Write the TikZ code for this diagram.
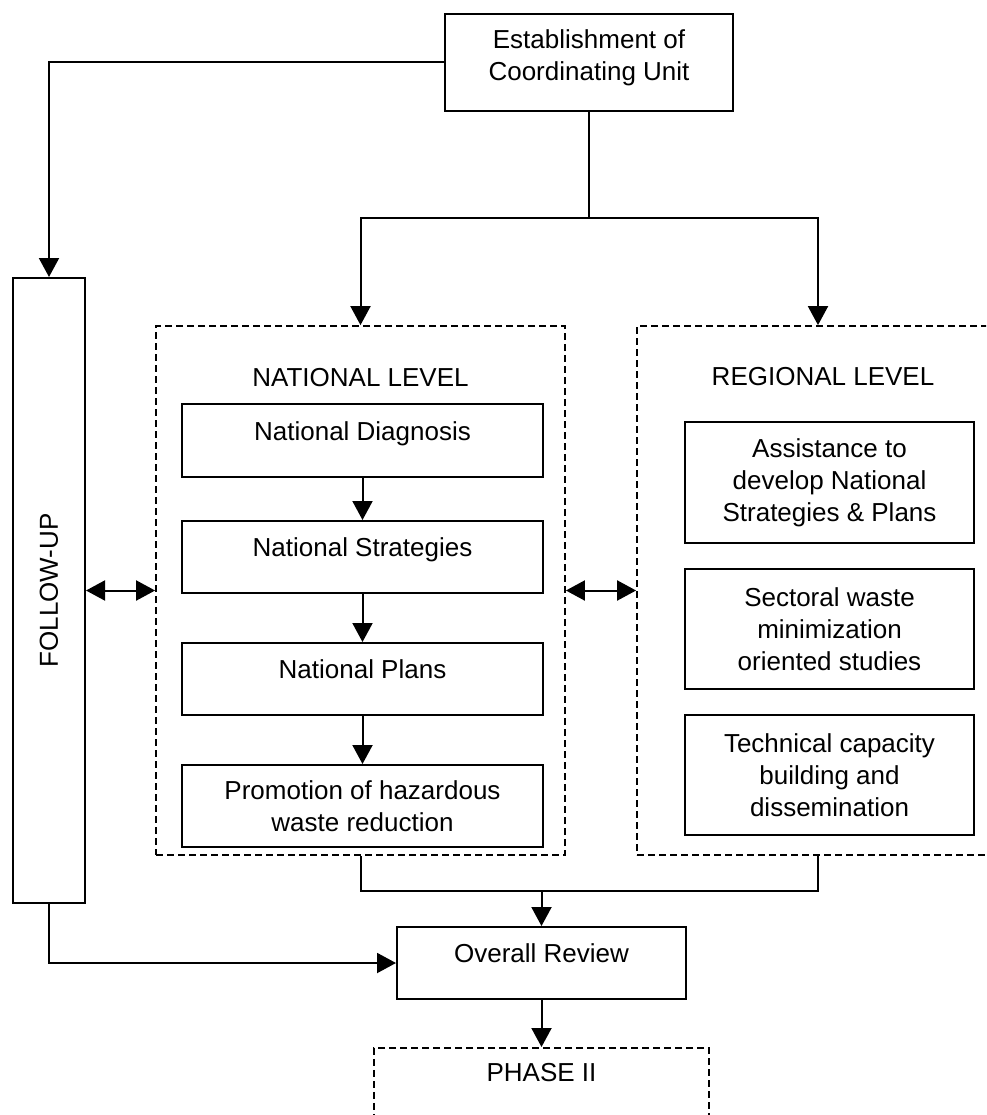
\documentclass[tikz,border=0pt]{standalone}
\usepackage{fontspec}
\setmainfont{Liberation Sans}
\usepackage{tikz}
\usetikzlibrary{arrows}
\usetikzlibrary{positioning, arrows.meta}

\begin{document}
\begin{tikzpicture}[x=1pt, y=-1pt,
  font=\fontsize{26pt}{32pt}\selectfont,
  box/.style={draw, line width=2pt, align=center, inner sep=0pt},
  oneline/.style={text depth=19pt},
  group/.style={draw, line width=1.8pt, dash pattern=on 7pt off 4pt, inner sep=0pt},
  link/.style={line width=2pt},
  >={Triangle[length=19pt, width=20pt]}]
\useasboundingbox (0,0) rectangle (986,1115);
\clip (0,0) rectangle (986,1115); %regional box and phase II run off the page

\node[box, text depth=15pt, minimum width=288pt, minimum height=97pt] (estab) at (589,62.5) {Establishment of\\Coordinating Unit};
\node[box, minimum width=72pt, minimum height=625pt] (follow) at (49,590.5) {};
\node[rotate=90] (followtext) at (follow.center) {FOLLOW-UP};

% national level
\node[group, minimum width=409pt, minimum height=529pt] (national) at (360.5,590.5) {};
\node (nattitle) at ([yshift=-52pt]national.north) {NATIONAL LEVEL};
\node[box, oneline, minimum width=361pt, minimum height=73pt] (diag) at (362.5,440.5) {National Diagnosis};
\node[box, oneline, minimum width=361pt, minimum height=72pt, below=42pt of diag] (strat) {National Strategies};
\node[box, oneline, minimum width=361pt, minimum height=72pt, below=48pt of strat] (plans) {National Plans};
\node[box, minimum width=361pt, minimum height=82pt, below=48pt of plans] (promo) {Promotion of hazardous\\waste reduction};

% regional level
\node[group, minimum width=362pt, minimum height=529pt] (regional) at (818,590.5) {};
\node (regtitle) at (823,377) {REGIONAL LEVEL};
\node[box, minimum width=289pt, minimum height=121pt] (assist) at (829.5,482.5) {Assistance to\\develop National\\Strategies \& Plans};
\node[box, minimum width=289pt, minimum height=120pt, below=24pt of assist] (sector) {Sectoral waste\\minimization\\oriented studies};
\node[box, minimum width=289pt, minimum height=120pt, below=24pt of sector] (tech) {Technical capacity\\building and\\dissemination};

\node[box, oneline, minimum width=289pt, minimum height=72pt] (review) at (541.5,963) {Overall Review};
\node[group, minimum width=335pt, minimum height=100pt, anchor=north] (phase) at (541.5,1047) {};
\node (phasetitle) at ([yshift=-26pt]phase.north) {PHASE II};

\coordinate (split) at (589,218);
\coordinate (merge) at (541.5,891);

\draw[link, ->] (estab.west) -| (follow.north);
\draw[link] (estab.south) -- (split);
\draw[link, ->] (split) -| (national.north);
\draw[link, ->] (split) -| (regional.north);
\draw[link, ->] (diag) -- (strat);
\draw[link, ->] (strat) -- (plans);
\draw[link, ->] (plans) -- (promo);
\draw[link, <->] (follow) -- (national);
\draw[link, <->] (national) -- (regional);
\draw[link] (national.south) |- (merge) -| (regional.south);
\draw[link, ->] (merge) -- (review);
\draw[link, ->] (follow.south) |- (review.west);
\draw[link, ->] (review) -- (phase);
\end{tikzpicture}
\end{document}
